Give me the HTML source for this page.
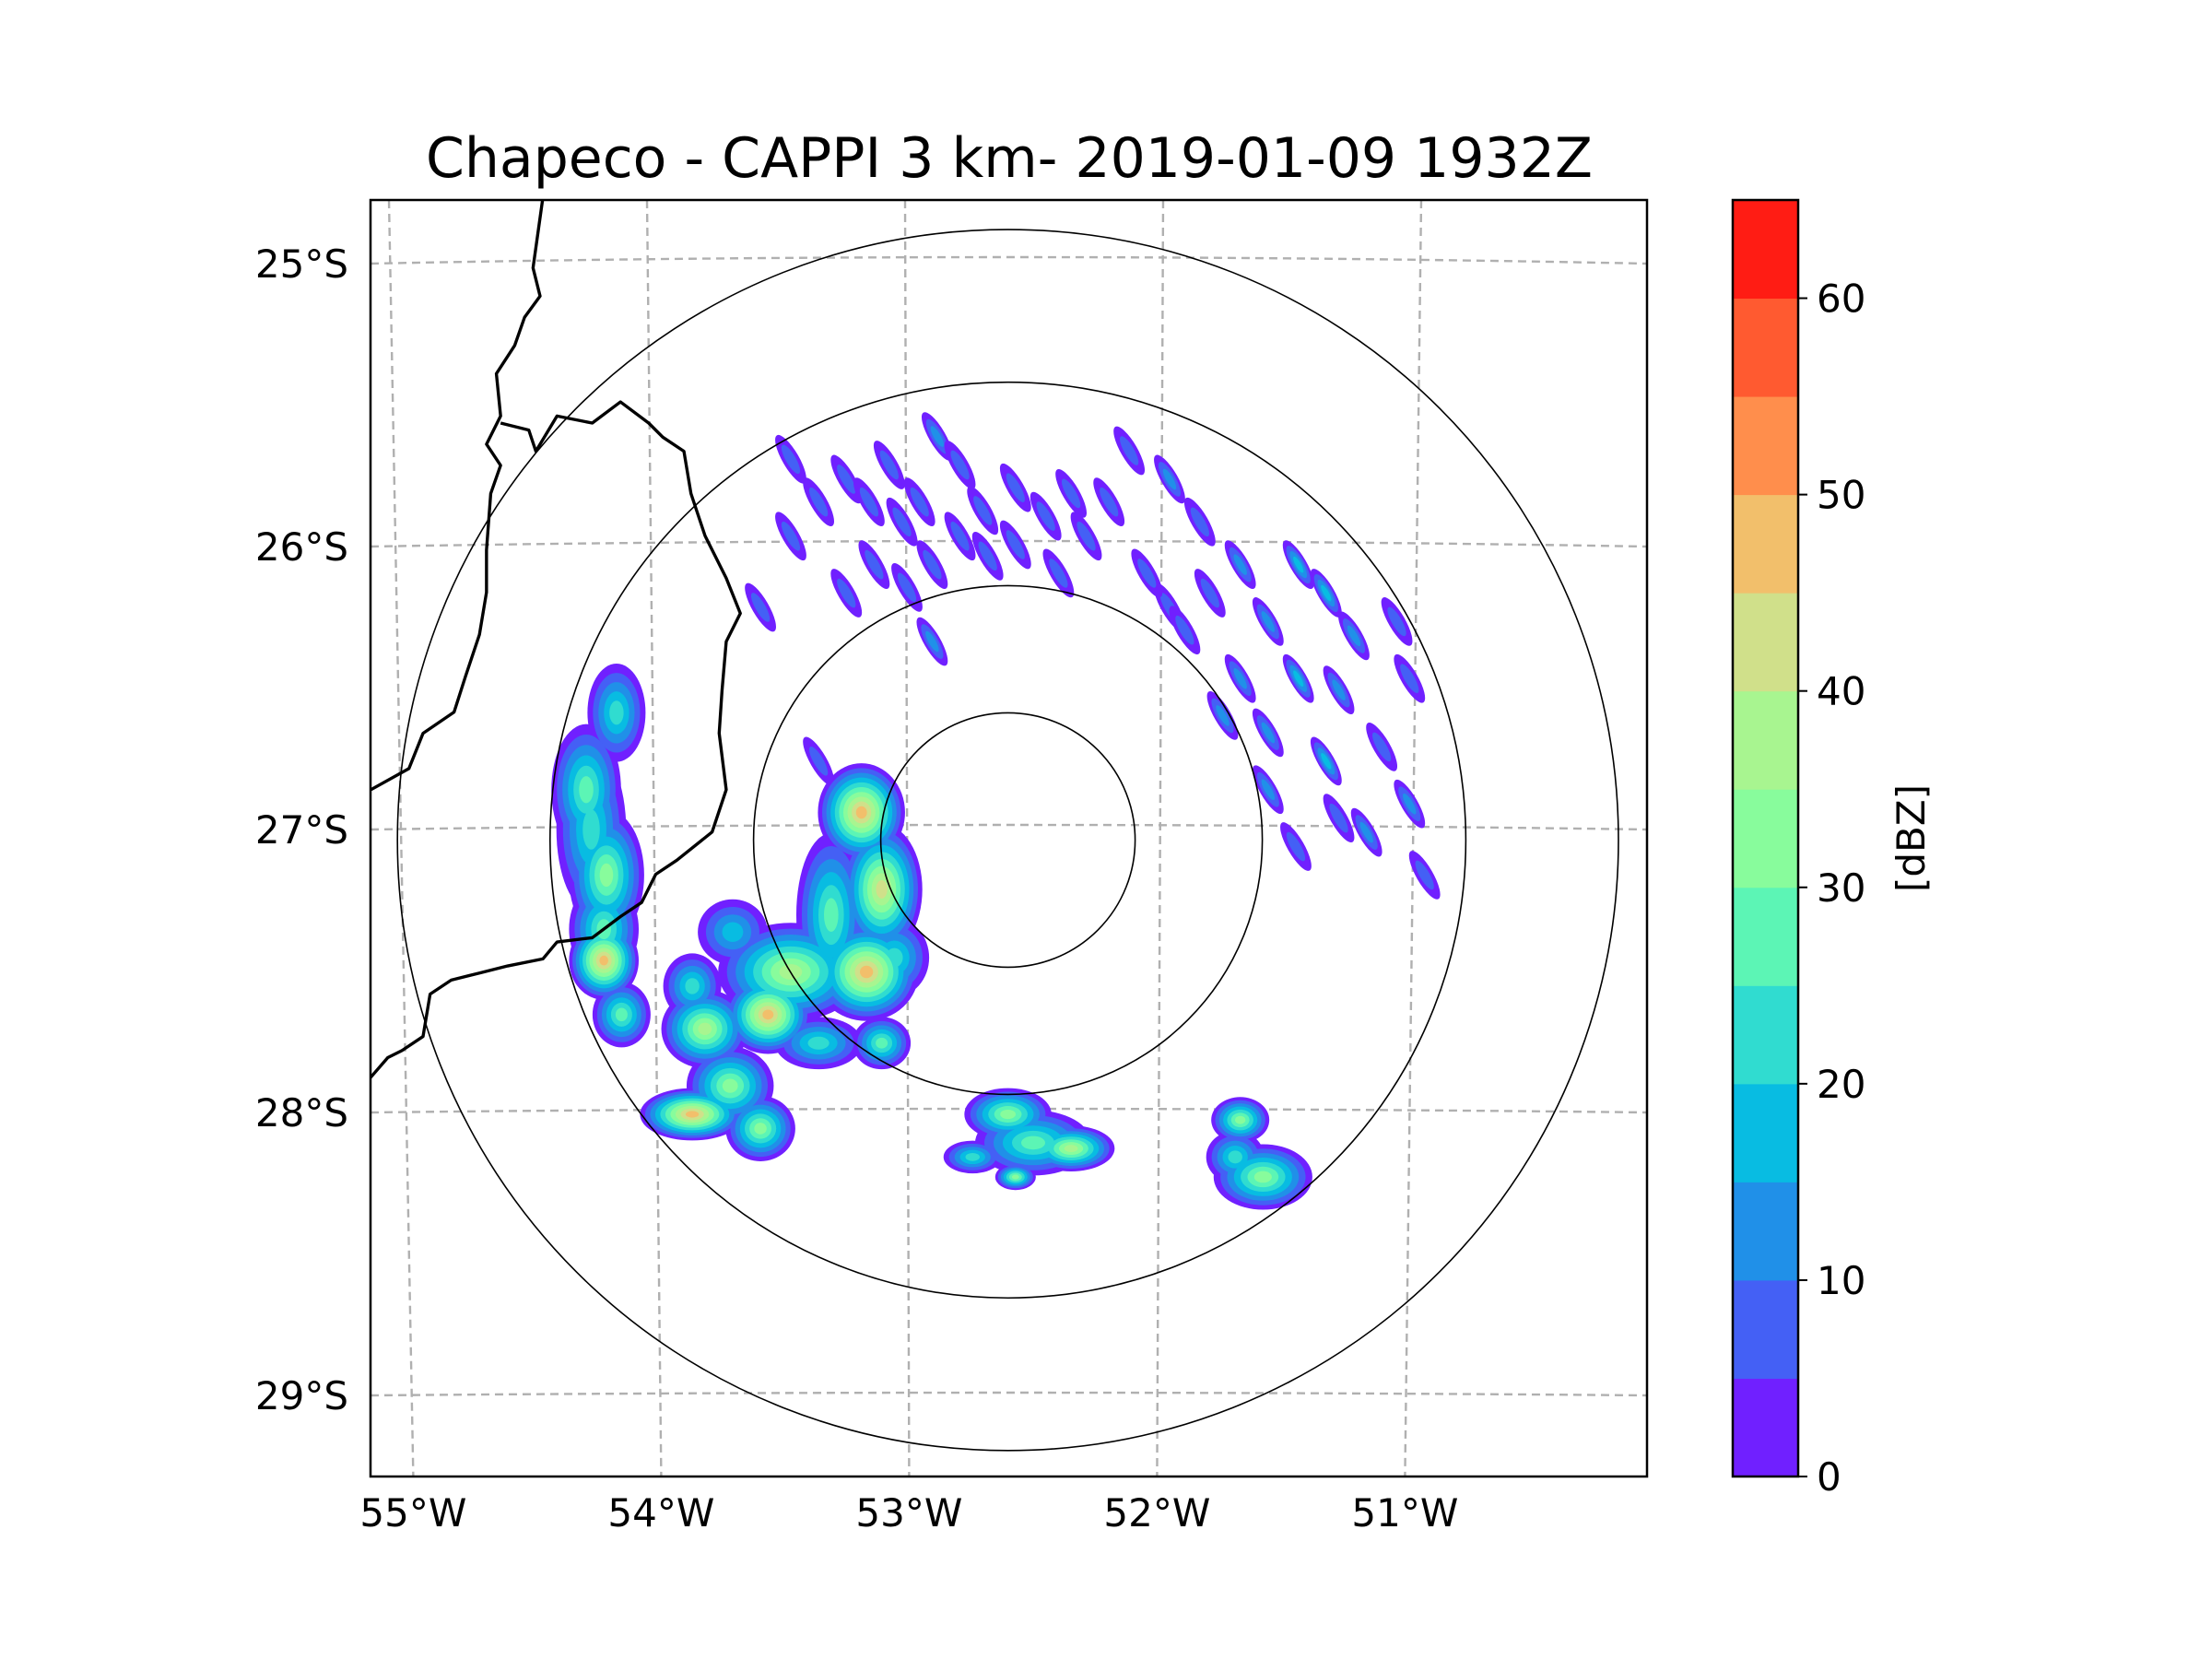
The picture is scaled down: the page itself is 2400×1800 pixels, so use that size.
<!DOCTYPE html>
<html><head><meta charset="utf-8">
<style>
html,body{margin:0;padding:0;background:#fff;}
svg{display:block;font-family:"DejaVu Sans","Liberation Sans",sans-serif;}
</style></head>
<body>
<svg id="fig" width="2400" height="1800" viewBox="0 0 2400 1800" xmlns="http://www.w3.org/2000/svg">
<rect width="2400" height="1800" fill="#fff"/>
<text x="1095" y="192" font-size="60" text-anchor="middle">Chapeco - CAPPI 3 km- 2019-01-09 1932Z</text>
<defs><clipPath id="axclip"><rect x="402" y="217" width="1385" height="1385"/></clipPath></defs>
<g id="gridg" clip-path="url(#axclip)"></g>
<g id="datag" clip-path="url(#axclip)"></g>
<g clip-path="url(#axclip)">
<g transform="scale(1.53)" fill="none" stroke="#000" stroke-width="2.2" stroke-linejoin="round">
<path d="M385,140 L378,190 L383,210 L372,225 L365,245 L352,265 L355,295 L345,315 L355,330 L348,350 L345,390 L345,420 L340,450 L330,480 L322,505 L300,520 L290,545 L263,560"/>
<path d="M355,300 L375,305 L380,320 L395,295 L420,300 L440,285 L460,300 L470,310 L485,320 L490,350 L500,380 L515,410 L525,435 L515,455 L512,490 L510,520 L515,560 L505,590 L480,610 L465,620 L455,640 L440,650 L420,665 L395,668 L385,680 L360,685 L340,690 L320,695 L305,705 L300,735 L285,745 L275,750 L262,765"/>
</g></g>
<g id="rings" clip-path="url(#axclip)" fill="none" stroke="#000" stroke-width="1.6"></g>
<rect x="402" y="217" width="1385" height="1385" fill="none" stroke="#000" stroke-width="2.5"/>
<g id="ticks" font-size="42"></g>
<g id="cbar"></g>
</svg>
<script>
const lonTicks = [-55, -54, -53, -52, -51];
const lonTickLabels = ["55°W", "54°W", "53°W", "52°W", "51°W"];
const latTicks = [-25, -26, -27, -28, -29];
const latTickLabels = ["25°S", "26°S", "27°S", "28°S", "29°S"];
const levels = [0,5,10,15,20,25,30,35,40,45,50,55,60,65];
const cbarTicks = [0,10,20,30,40,50,60];
const levelColors = ["#7020ff","#4460f5","#2090e8","#08bce2","#30dcd0","#5cf5b5","#88fc9c","#a8f590","#d0e08a","#f2bf6b","#ff8e4c","#ff5a30","#ff1c14"];
const ringRadiiKm = [50, 100, 180, 240];
const radarLon = -52.60, radarLat = -27.05;
// storm cells: lon, lat, peak dBZ, half-width (deg lon), half-height (deg lat)
const cellLon = [-54.15,-54.27,-54.19,-54.20,-54.13,-53.18,-53.10,-53.16,-53.46,-53.55,-53.80,-53.85,-53.58,-53.69,-52.60,-52.35,-52.74,-52.57,-51.68,-51.59,-54.25,-54.20,-53.30,-53.05,-53.70,-53.35,-53.10,-53.85,-52.50,-51.70];
const cellLat = [-26.59,-26.86,-27.16,-27.46,-27.65,-26.94,-27.21,-27.50,-27.50,-27.65,-27.70,-28.00,-28.05,-27.36,-28.00,-28.12,-28.15,-28.22,-28.02,-28.22,-27.00,-27.35,-27.30,-27.45,-27.90,-27.75,-27.75,-27.55,-28.10,-28.15];
const cellDbz = [20,25,30,48,25,45,40,48,35,45,35,45,30,15,30,35,20,30,30,30,20,25,25,20,30,20,25,20,25,20];
const cellW = [0.10,0.12,0.13,0.12,0.10,0.15,0.14,0.18,0.25,0.15,0.15,0.18,0.12,0.12,0.15,0.15,0.10,0.07,0.10,0.17,0.12,0.12,0.12,0.12,0.15,0.15,0.10,0.10,0.20,0.10];
const cellH = [0.15,0.20,0.20,0.12,0.10,0.15,0.20,0.15,0.15,0.12,0.12,0.08,0.10,0.10,0.08,0.07,0.05,0.04,0.07,0.10,0.25,0.15,0.25,0.12,0.12,0.08,0.08,0.10,0.10,0.08];
// clutter / weak echo streaks
const clutLon = [-53.46,-53.24,-53.07,-52.88,-52.79,-52.57,-52.35,-52.12,-51.96,-53.02,-52.79,-52.57,-52.29,-53.13,-52.90,-52.68,-53.46,-53.24,-53.58,-52.90,-51.84,-51.68,-51.45,-51.80,-51.57,-51.34,-51.23,-51.06,-51.68,-51.45,-51.29,-51.01,-51.57,-51.34,-51.12,-51.57,-51.29,-51.01,-51.46,-51.18,-50.95,-53.35,-51.96,-53.35,-53.15,-52.95,-52.70,-52.45,-52.20,-52.05,-51.90,-51.75,-53.00,-52.40];
const clutLat = [-25.70,-25.77,-25.72,-25.62,-25.72,-25.80,-25.82,-25.67,-25.77,-25.92,-25.97,-26.00,-25.97,-26.07,-26.07,-26.04,-25.97,-26.17,-26.22,-26.34,-25.92,-26.07,-26.07,-26.17,-26.27,-26.17,-26.32,-26.27,-26.47,-26.47,-26.51,-26.47,-26.66,-26.76,-26.71,-26.86,-26.96,-26.91,-27.06,-27.01,-27.16,-26.76,-26.22,-25.85,-25.85,-25.85,-25.88,-25.90,-25.85,-26.10,-26.30,-26.60,-26.15,-26.10];
const clutDbz = [5,5,5,10,5,5,5,5,10,5,5,5,5,5,5,5,5,5,5,10,5,10,15,5,10,15,10,5,10,15,10,5,10,15,5,10,5,10,5,10,5,5,5,5,5,5,5,5,5,5,5,10,5,5];

const NS='http://www.w3.org/2000/svg';
function X(lon){return 984 + (lon + 53) * 274;}
function Y(lat){return 900 + (-27 - lat) * 309;}
function mk(tag, attrs, parent){const e=document.createElementNS(NS,tag);for(const k in attrs)e.setAttribute(k,attrs[k]);parent.appendChild(e);return e;}

const gridg=document.getElementById('gridg');
lonTicks.forEach((lon,i)=>{
  const xt=1094+(lon+52.6)*280, xb=1094+(lon+52.6)*269;
  const l=mk('line',{x1:xt,y1:217,x2:xb,y2:1602,stroke:'#b0b0b0','stroke-width':2.4,'stroke-dasharray':'9,6'},gridg);
  
  
});
latTicks.forEach((lat,i)=>{
  const y=Y(lat);
  const p=mk('path',{d:`M402,${y+(lat+27)*2} Q1094,${y-10} 1787,${y+(lat+27)*2}`,fill:'none',stroke:'#b0b0b0','stroke-width':2.4,'stroke-dasharray':'9,6'},gridg);
  
  
});

const datag=document.getElementById('datag');
clutLon.forEach((lon,i)=>{
  const cx=X(lon), cy=Y(clutLat[i]);
  const n=Math.floor(clutDbz[i]/5);
  for(let k=0;k<=n;k++){
    const s=1-k/(n+1.5);
    const e=mk('ellipse',{cx:cx,cy:cy,rx:30*s,ry:9*s,fill:levelColors[k],transform:`rotate(60 ${cx} ${cy})`},datag);
    
    
  }
});
const cellOrder=cellLon.map((_,i)=>i);
for(let k=0;k<13;k++){
  cellOrder.forEach(i=>{
    const n=Math.floor(cellDbz[i]/5);
    if(k>n) return;
    const cx=X(cellLon[i]), cy=Y(cellLat[i]);
    const rx=cellW[i]*274*1.15, ry=cellH[i]*309*1.15;
    const s=1-k/(n+1.3);
    const e=mk('ellipse',{cx:cx,cy:cy,rx:rx*s,ry:ry*s,fill:levelColors[k]},datag);
    
    
  });
}

const rings=document.getElementById('rings');
const kmPx = 138/50;
ringRadiiKm.forEach(r=>{
  const c=mk('ellipse',{cx:X(radarLon),cy:Y(radarLat)-4,rx:r*kmPx,ry:r*kmPx},rings);
  
  
});

const ticks=document.getElementById('ticks');
lonTicks.forEach((lon,i)=>{
  const t=mk('text',{x:1094+(lon+52.6)*269,y:1656,'text-anchor':'middle'},ticks);
  t.textContent=lonTickLabels[i];
  
  
});
latTicks.forEach((lat,i)=>{
  const t=mk('text',{x:378,y:Y(lat)+(lat+27)*2+15,'text-anchor':'end'},ticks);
  t.textContent=latTickLabels[i];
  
  
});

const cbar=document.getElementById('cbar');
const cbTop=217, cbBot=1602, cbX=1880, cbW=71;
function CY(v){return cbBot-(v-levels[0])/(levels[levels.length-1]-levels[0])*(cbBot-cbTop);}
for(let i=0;i<levels.length-1;i++){
  const r=mk('rect',{x:cbX,y:CY(levels[i+1]),width:cbW,height:CY(levels[i])-CY(levels[i+1])+0.5,fill:levelColors[i]},cbar);
  
  
}
const fr=mk('rect',{x:cbX,y:cbTop,width:cbW,height:cbBot-cbTop,fill:'none',stroke:'#000','stroke-width':2.5},cbar);


cbarTicks.forEach(v=>{
  const y=CY(v);
  const tl=mk('line',{x1:cbX+cbW,y1:y,x2:cbX+cbW+10,y2:y,stroke:'#000','stroke-width':2},cbar);
  
  
  const t=mk('text',{x:cbX+cbW+20,y:y+15,'font-size':42},cbar);
  t.textContent=String(v);
  
  
});
const lab=mk('text',{x:0,y:0,'font-size':42,'text-anchor':'middle',transform:`translate(2088 ${(cbTop+cbBot)/2}) rotate(-90)`},cbar);
lab.textContent='[dBZ]';


</script>
</body></html>
